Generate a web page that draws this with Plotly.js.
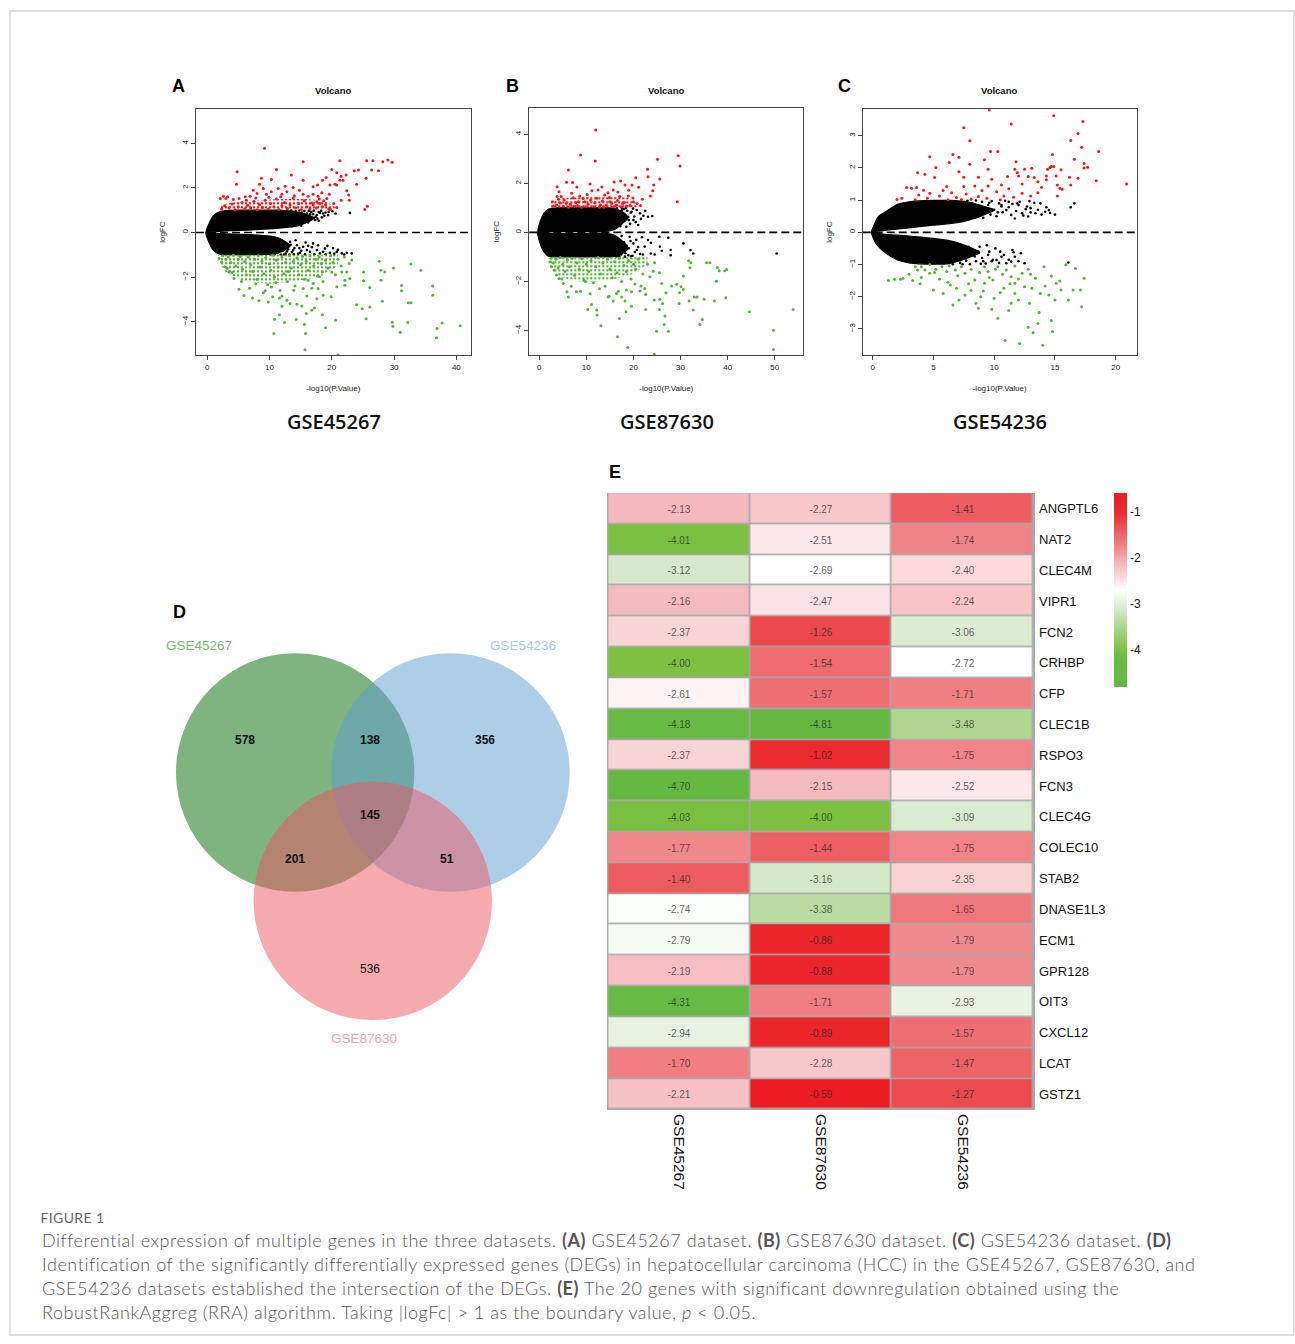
<!DOCTYPE html>
<html><head><meta charset="utf-8">
<script src="https://cdn.plot.ly/plotly-3.0.1.min.js"></script>
<style>html,body{margin:0;padding:0;background:#fff}#chart{width:1295px;height:1344px}</style>
</head><body><div id="chart"></div>
<script>
// ================= DATA =================
const datasetNames = ['GSE45267', 'GSE87630', 'GSE54236'];
const panelLetters = ['A', 'B', 'C'];
const volcanoTitle = 'Volcano';
const volcanoXLabel = '-log10(P.Value)';
const volcanoYLabel = 'logFC';
const A_xTicks = [0, 10, 20, 30, 40];
const A_yTicks = [-4, -2, 0, 2, 4];
const B_xTicks = [0, 10, 20, 30, 40, 50];
const B_yTicks = [-4, -2, 0, 2, 4];
const C_xTicks = [0, 5, 10, 15, 20];
const C_yTicks = [-3, -2, -1, 0, 1, 2, 3];

// dense black (non-significant) cloud cores: x, upper edge, lower edge (tapered ends)
const A_cloudUpX = [-0.2, 0.3, 1, 2, 3, 5, 8, 11, 13, 14.5, 15.5, 16.5, 17.2];
const A_cloudUpTop = [0, 0.4, 0.75, 0.93, 0.98, 1.0, 1.0, 1.0, 0.97, 0.92, 0.85, 0.75, 0.66];
const A_cloudUpBot = [0, 0.02, 0.03, 0.05, 0.07, 0.09, 0.13, 0.18, 0.24, 0.3, 0.4, 0.52, 0.64];
const A_cloudLowX = [-0.2, 0.3, 1, 2, 4, 7, 9, 10.5, 11.5, 12.5, 13.3];
const A_cloudLowTop = [0, -0.02, -0.03, -0.05, -0.07, -0.1, -0.14, -0.18, -0.25, -0.4, -0.58];
const A_cloudLowBot = [0, -0.45, -0.8, -0.97, -1.0, -1.0, -0.99, -0.97, -0.9, -0.78, -0.62];
const B_cloudUpX = [-0.3, 0.3, 1, 2, 4, 8, 12, 14.5, 16, 17, 18, 18.8];
const B_cloudUpTop = [0, 0.5, 0.78, 0.95, 1.0, 1.0, 1.0, 1.0, 0.97, 0.9, 0.8, 0.62];
const B_cloudUpBot = [0, 0.01, 0.02, 0.03, 0.04, 0.04, 0.03, 0.05, 0.12, 0.25, 0.42, 0.58];
const B_cloudLowX = [-0.3, 0.3, 1, 2, 4, 8, 12, 14.5, 16, 17, 18, 18.8];
const B_cloudLowTop = [0, -0.01, -0.02, -0.03, -0.04, -0.04, -0.03, -0.05, -0.12, -0.25, -0.42, -0.6];
const B_cloudLowBot = [0, -0.5, -0.8, -0.97, -1.0, -1.0, -1.0, -1.0, -0.98, -0.92, -0.82, -0.66];
const C_cloudUpX = [-0.1, 0.2, 0.5, 1, 2, 3, 5, 6.5, 7.5, 8.3, 9.2, 10];
const C_cloudUpTop = [0, 0.3, 0.5, 0.62, 0.86, 0.95, 0.99, 0.99, 0.96, 0.9, 0.8, 0.7];
const C_cloudUpBot = [0, 0.02, 0.04, 0.06, 0.1, 0.14, 0.22, 0.28, 0.34, 0.42, 0.55, 0.68];
const C_cloudLowX = [-0.1, 0.2, 0.5, 1, 2, 3, 5, 6.3, 7.2, 8.1, 8.8];
const C_cloudLowTop = [0, -0.02, -0.04, -0.06, -0.09, -0.12, -0.19, -0.26, -0.35, -0.48, -0.62];
const C_cloudLowBot = [0, -0.3, -0.45, -0.62, -0.85, -0.95, -0.99, -0.97, -0.88, -0.76, -0.64];

// scattered black points around / beyond the dense core
const A_blackPts = [[22.9,0.88],[16.5,0.82],[17.6,0.78],[18.1,0.88],[18.6,0.85],[17.3,0.55],[16.0,0.63],[19.5,0.92],[13.3,-0.42],[14.4,-0.57],[15.4,-0.64],[16.5,-0.87],[17.0,-0.49],[17.6,-0.79],[18.1,-0.94],[18.6,-0.87],[19.7,-0.91],[20.8,-0.87],[21.6,-0.94],[22.4,-0.91],[23.2,-0.94],[14.9,-0.91],[16.0,-0.79],[13.8,-0.79],[17.8,-0.57],[18.9,-0.72],[15.8,-0.45],[19.3,-0.6],[20.2,-0.7],[21.0,-0.78],[14.2,-0.35],[16.8,-0.66],
  [13.5,0.99],[14.2,0.95],[14.8,0.99],[15.2,0.9],[15.6,0.96],[16.0,0.85],[16.3,0.97],[16.7,0.92],[17.1,0.98],[17.4,0.7],[17.9,0.92],[18.3,0.97],[18.8,0.75],[19.0,0.9],[15.0,0.5],[15.9,0.72],[16.4,0.6],[17.0,0.82],[14.0,0.45],[13.0,0.35],[14.5,0.38],[15.5,0.65],[12.8,0.98],[16.2,0.45],[17.7,0.62],[18.4,0.68],[19.4,0.78],[20.1,0.95],[20.6,0.85],[15.1,0.3],[13.6,0.28],[12.2,0.25],[17.9,0.52],
  [10.8,-0.98],[11.3,-0.92],[11.8,-0.99],[12.2,-0.8],[12.6,-0.95],[12.9,-0.6],[13.2,-0.99],[13.6,-0.88],[14.0,-0.7],[14.6,-0.96],[15.1,-0.82],[11.5,-0.45],[12.0,-0.35],[12.5,-0.5],[13.0,-0.75],[10.9,-0.3],[11.9,-0.62],[12.3,-0.99],[13.4,-0.55],[14.8,-0.7],[15.7,-0.98],[16.2,-0.6],[17.2,-0.98],[19.0,-0.98],[20.4,-0.95],[22.0,-0.99],[11.2,-0.7],[10.6,-0.55],[10.1,-0.25],[9.4,-0.2],[13.9,-0.98],[12.8,-0.85]];
const B_blackPts = [[30.6,-0.45],[32.1,-0.72],[32.7,-0.86],[50.4,-0.86],[27.9,-0.93],[27.9,-0.72],[25.5,-0.18],[27.4,-0.22],[25.6,-0.58],[23.7,-0.42],[23.7,-0.86],[22.1,0.68],[24.0,0.67],[23.1,0.64],[21.4,0.78],[20.7,0.91],[19.6,0.84],[18.9,0.64],[20.0,0.5],[18.5,0.23],[19.2,-0.18],[20.0,-0.45],[20.7,-0.72],[21.4,-0.88],[22.4,-0.58],[23.1,-0.31],[17.8,-0.72],[18.9,-0.93],[17.1,-0.45],[21.0,0.3],[22.5,0.88],[19.8,-0.95],[24.5,-0.9],[26.0,-0.75],[21.8,-0.2],[18.0,0.95],
  [15.5,0.95],[16.0,0.8],[16.5,0.98],[17.0,0.6],[17.5,0.9],[18.0,0.7],[18.4,0.99],[19.0,0.5],[19.4,0.8],[20.2,0.65],[21.6,0.55],[16.2,0.35],[17.2,0.25],[17.8,0.45],[16.8,0.75],[17.6,0.98],[18.7,0.88],[19.9,0.97],[19.3,0.35],[20.5,0.42],
  [15.5,-0.9],[16.0,-0.6],[16.4,-0.98],[16.9,-0.75],[17.4,-0.9],[18.0,-0.4],[18.3,-0.85],[19.0,-0.65],[19.5,-0.98],[20.3,-0.8],[21.0,-0.6],[22.0,-0.9],[16.5,-0.25],[17.5,-0.15],[16.2,-0.4],[17.0,-0.98],[18.6,-0.55],[19.4,-0.35],[18.2,-0.99],[20.6,-0.3]];
const C_blackPts = [[16.1,-0.94],[16.3,0.78],[16.6,0.9],[14.2,0.64],[14.5,0.69],[12.8,0.49],[13.4,0.59],[12.3,0.59],[11.4,0.54],[11.7,0.43],[11.0,0.69],[10.6,0.8],[11.7,-0.76],[11.5,-0.55],[11.4,-0.91],[12.5,-0.96],[11.0,-0.96],[10.6,-0.76],[10.2,-0.86],[12.0,0.85],[13.0,0.75],[13.8,0.9],[11.2,0.95],[9.5,-0.7],[9.8,-0.9],[10.5,-0.6],[12.2,-0.65],[15.0,0.55],[12.6,0.72],
  [7.8,0.98],[8.2,0.9],[8.5,0.99],[8.8,0.75],[9.0,0.95],[9.3,0.6],[9.5,0.85],[9.8,0.97],[10.0,0.7],[10.2,0.5],[10.4,0.9],[10.7,0.62],[10.9,0.98],[11.2,0.78],[11.5,0.88],[11.8,0.66],[12.1,0.95],[12.4,0.52],[12.7,0.8],[13.0,0.62],[13.3,0.92],[13.6,0.7],[13.9,0.55],[14.3,0.78],[14.6,0.6],[8.6,0.55],[9.1,0.45],[9.7,0.55],[7.9,0.5],[8.9,0.65],[10.6,0.85],[11.9,0.9],[12.9,0.97],[8.4,0.72],[7.6,0.82],[10.3,0.62],[9.6,0.92],
  [6.6,-0.99],[6.9,-0.7],[7.2,-0.95],[7.5,-0.55],[7.7,-0.88],[8.0,-0.99],[8.2,-0.65],[8.5,-0.9],[8.8,-0.45],[9.0,-0.8],[9.3,-0.97],[9.6,-0.6],[9.9,-0.85],[10.1,-0.5],[10.4,-0.95],[10.8,-0.7],[11.2,-0.85],[11.6,-0.62],[12.0,-0.9],[7.0,-0.4],[8.4,-0.75],[9.4,-0.4],[6.8,-0.85],[7.4,-0.99],[7.9,-0.45],[8.7,-0.6],[9.1,-0.9],[8.9,-0.98]];

// up-regulated (red) points
const A_upPts = [[9.2,3.78],[15.4,3.18],[21.3,3.22],[25.6,3.22],[26.6,3.22],[28.2,3.18],[29.0,3.25],[29.7,3.15],[4.8,2.73],[11.1,2.83],[20.0,2.83],[20.8,2.68],[23.6,2.77],[24.3,2.8],[26.4,2.8],[27.5,2.77],[13.5,2.58],[21.5,2.53],[22.3,2.58],[25.5,2.43],[8.7,2.43],[10.3,2.38],[15.4,2.35],[18.5,2.35],[19.1,2.47],[21.3,2.35],[21.8,2.35],[4.7,2.17],[8.4,2.17],[12.5,2.08],[19.7,2.13],[20.5,2.16],[20.8,2.13],[24.0,2.17],[17.7,2.13],[17.0,2.05],[22.4,1.87],[22.7,1.68],[22.8,1.45],[25.7,1.18],[25.3,1.03],[19.8,1.03],[7.4,1.9],[9.0,1.98],[11.4,1.98],[13.8,2.02],[14.8,1.9],[2.6,1.63],[2.1,1.53],[3.0,1.53],[3.3,1.6],[4.2,1.48],[5.1,1.53],[6.1,1.6],[6.9,1.63],[8.0,1.75],[9.5,1.72],[10.3,1.83],[12.0,1.72],[12.8,1.83],[15.4,1.72],[16.2,1.63],[17.0,1.72],[17.8,1.63],[18.4,1.78],[19.2,1.53],[19.6,1.72],[18.7,1.42],[18.1,1.3],[17.6,1.38],[16.8,1.33],[2.3,1.05],[2.8,1.2],[3.5,1.1],[4.0,1.28],[4.5,1.02],[5.0,1.15],[5.6,1.35],[6.0,1.05],[6.5,1.22],[7.0,1.1],[7.5,1.4],[8.0,1.02],[8.4,1.25],[8.9,1.12],[9.3,1.45],[9.8,1.05],[10.2,1.3],[10.7,1.15],[11.1,1.5],[11.5,1.03],[12.0,1.2],[12.4,1.35],[12.9,1.08],[13.3,1.25],[13.8,1.55],[14.2,1.1],[14.7,1.3],[15.1,1.02],[15.6,1.42],[16.0,1.15],[16.5,1.05],[17.0,1.25],[17.5,1.1],[18.0,1.5],[18.5,1.15],[19.0,1.25],[19.5,1.05],[20.3,1.3],[20.8,1.12],[21.5,1.45],[14.0,1.65],[11.8,1.6],[9.9,1.58],[7.8,1.55],[6.3,1.45]];
const B_upPts = [[12.0,4.18],[8.8,3.16],[11.9,2.91],[25.1,2.98],[29.5,3.12],[29.9,2.71],[6.2,2.54],[23.0,2.57],[23.1,2.27],[25.6,2.18],[20.5,2.23],[5.8,2.04],[7.1,2.03],[10.8,1.97],[15.9,2.05],[17.3,2.1],[18.2,1.93],[19.7,1.93],[21.1,1.84],[24.3,1.93],[24.1,1.7],[23.6,1.48],[21.9,1.35],[29.3,1.25],[3.8,1.86],[4.2,1.66],[3.8,1.46],[4.7,1.46],[4.1,1.35],[2.8,1.25],[3.7,1.12],[5.7,1.18],[7.2,1.41],[8.6,1.48],[8.3,1.25],[9.7,1.25],[9.9,1.05],[11.5,1.05],[12.2,1.39],[13.0,1.12],[13.9,1.52],[15.0,1.25],[15.7,1.73],[16.4,1.12],[17.1,1.46],[17.7,1.18],[18.5,1.07],[20.0,1.25],[20.8,1.18],[18.9,1.48],[6.2,1.02],[7.4,1.07],[9.0,1.02],[5.1,1.07],[13.7,1.02],[12.5,1.73],[14.6,1.62],[15.4,1.18],[3.0,1.08],[4.5,1.2],[5.3,1.32],[6.6,1.15],[7.8,1.22],[8.1,1.1],[9.3,1.38],[10.4,1.15],[10.9,1.32],[11.8,1.2],[12.8,1.02],[13.4,1.28],[14.2,1.12],[14.9,1.42],[15.8,1.05],[16.6,1.3],[17.4,1.05],[18.1,1.22],[19.3,1.1],[19.9,1.4],[21.5,1.1],[6.9,1.6],[10.2,1.55],[11.2,1.7],[8.0,1.85],[13.3,1.85],[16.7,1.65],[19.0,1.72]];
const C_upPts = [[9.6,3.8],[14.9,3.62],[11.4,3.36],[17.3,3.44],[7.5,3.25],[16.9,3.07],[8.0,2.84],[16.3,2.85],[17.2,2.64],[9.7,2.51],[10.3,2.51],[18.6,2.51],[6.6,2.42],[14.8,2.42],[4.7,2.35],[7.1,2.33],[9.2,2.25],[16.6,2.27],[6.3,2.17],[8.0,2.11],[11.8,2.19],[17.4,2.14],[17.7,2.02],[17.4,2.0],[5.2,2.01],[9.5,1.96],[11.7,1.96],[12.5,1.96],[13.1,1.99],[14.6,2.01],[14.7,2.04],[14.9,2.04],[14.4,1.96],[11.9,1.85],[15.5,1.94],[3.7,1.85],[7.1,1.88],[4.3,1.8],[5.1,1.7],[7.5,1.71],[8.7,1.71],[9.8,1.65],[11.1,1.73],[12.0,1.75],[12.8,1.73],[13.3,1.7],[14.3,1.75],[15.1,1.75],[16.2,1.71],[16.9,1.68],[18.4,1.6],[20.9,1.5],[15.2,1.47],[15.4,1.37],[15.6,1.34],[15.2,1.13],[16.3,1.47],[14.3,1.63],[13.6,1.57],[12.3,1.5],[10.6,1.47],[9.5,1.44],[8.4,1.44],[7.5,1.42],[6.1,1.42],[2.8,1.39],[3.2,1.37],[3.6,1.39],[4.2,1.31],[4.7,1.21],[5.5,1.13],[6.5,1.23],[6.9,1.08],[7.7,1.19],[8.7,1.11],[9.4,1.06],[10.2,1.26],[10.8,1.13],[11.6,1.09],[12.3,1.21],[13.0,1.13],[13.6,1.23],[2.0,1.02],[2.4,1.06],[3.5,1.01],[3.8,1.16],[4.5,1.06],[6.2,1.01],[7.3,1.02],[8.1,1.03],[10.5,1.01],[5.8,1.3],[9.0,1.3],[11.2,1.35],[13.9,1.4]];

// down-regulated (green) points
const A_downPts = [[27.6,-1.29],[29.9,-1.59],[32.7,-1.42],[34.3,-1.69],[27.9,-1.69],[28.5,-1.77],[27.9,-2.14],[25.1,-1.77],[25.1,-2.17],[26.1,-2.47],[31.2,-2.38],[31.2,-2.62],[36.2,-2.4],[36.2,-2.82],[28.1,-3.09],[32.3,-3.15],[32.7,-3.15],[24.0,-3.24],[24.9,-3.42],[26.1,-3.34],[25.5,-3.87],[20.6,-3.94],[29.7,-4.03],[32.2,-4.04],[37.7,-4.06],[29.8,-4.21],[40.6,-4.19],[36.9,-4.31],[31.0,-4.48],[36.8,-4.72],[19.0,-4.28],[15.6,-4.13],[15.8,-4.54],[14.3,-3.91],[10.7,-4.54],[15.7,-5.26],[21.0,-5.5],[10.8,-3.9],[12.4,-4.04],[11.6,-3.69],[15.9,-3.64],[16.8,-3.49],[17.2,-3.39],[18.5,-3.69],[15.2,-3.3],[13.3,-3.19],[14.4,-3.22],[12.0,-3.31],[10.5,-2.89],[11.6,-2.94],[12.8,-3.04],[13.9,-2.59],[9.8,-3.12],[8.3,-3.07],[7.3,-2.94],[9.3,-2.62],[5.9,-2.83],[5.1,-2.55],[4.3,-2.07],[3.5,-1.77],[2.8,-1.54],[1.9,-1.17],[2.3,-1.32],[22.1,-2.37],[20.8,-2.44],[22.1,-2.14],[22.9,-2.07],[22.4,-1.77],[23.2,-1.24],[22.8,-1.39],[21.6,-1.77],[20.0,-1.77],[18.5,-1.77],[18.0,-1.99],[19.9,-2.89],[18.6,-2.82],[17.6,-2.97],[16.0,-2.85],[15.4,-2.52],[17.0,-2.29],[16.2,-2.14],[17.8,-2.52],[2.5,-1.05],[3.0,-1.2],[3.4,-1.1],[3.8,-1.35],[4.2,-1.02],[4.6,-1.5],[5.0,-1.2],[5.3,-1.08],[5.7,-1.65],[6.0,-1.3],[6.3,-1.9],[6.6,-1.1],[7.0,-1.45],[7.3,-1.75],[7.6,-1.2],[8.0,-2.1],[8.2,-1.05],[8.5,-1.55],[8.8,-1.3],[9.1,-1.85],[9.4,-1.12],[9.7,-2.35],[10.0,-1.4],[10.2,-1.7],[10.5,-1.02],[10.8,-2.0],[11.1,-1.25],[11.4,-1.55],[11.7,-2.6],[12.0,-1.1],[12.3,-1.85],[12.6,-1.35],[12.9,-2.2],[13.2,-1.05],[13.5,-1.6],[13.8,-1.3],[14.1,-2.4],[14.4,-1.15],[14.7,-1.9],[15.0,-1.45],[15.3,-1.08],[15.6,-2.1],[15.9,-1.3],[16.2,-1.7],[16.5,-1.05],[16.8,-2.5],[17.1,-1.5],[17.4,-1.2],[17.7,-1.95],[18.0,-1.1],[18.3,-1.4],[18.6,-2.2],[19.0,-1.25],[19.4,-1.6],[19.8,-1.05],[20.2,-1.35],[20.6,-1.9],[21.0,-1.2],[21.5,-1.5],[22.0,-1.1],[3.2,-1.6],[4.0,-1.8],[5.5,-2.2],[6.8,-2.5],[7.8,-2.3],[9.0,-2.7],[10.3,-2.45],[11.0,-2.25],[12.0,-2.85],[13.0,-1.75]];
const B_downPts = [[35.5,-1.24],[36.2,-1.24],[37.8,-1.43],[38.2,-1.56],[39.4,-1.56],[39.8,-1.51],[37.6,-1.99],[39.6,-2.67],[37.2,-2.8],[35.0,-2.73],[33.5,-2.63],[32.9,-2.63],[31.8,-2.8],[32.7,-3.17],[34.6,-3.55],[34.1,-3.76],[44.6,-3.24],[53.9,-3.14],[49.7,-3.99],[49.7,-4.78],[27.4,-4.03],[24.9,-4.03],[24.4,-4.97],[18.8,-4.69],[16.6,-4.26],[13.1,-3.81],[17.0,-3.51],[18.4,-3.24],[19.6,-3.01],[22.6,-3.14],[25.5,-3.14],[26.7,-3.41],[26.5,-3.76],[25.6,-2.73],[24.4,-2.76],[26.2,-2.9],[26.9,-2.46],[26.0,-2.08],[28.1,-2.19],[29.2,-2.12],[30.1,-2.22],[30.6,-2.33],[29.8,-2.46],[29.7,-2.9],[30.6,-1.78],[31.7,-1.16],[32.2,-1.24],[32.0,-1.44],[24.5,-1.24],[24.2,-1.58],[23.5,-1.81],[25.5,-1.65],[22.4,-2.29],[21.6,-2.19],[21.4,-2.39],[22.6,-2.53],[12.2,-3.17],[10.3,-3.14],[11.1,-2.94],[12.3,-3.37],[15.7,-2.8],[14.6,-2.63],[6.2,-2.63],[5.9,-2.42],[7.9,-2.42],[5.1,-2.08],[4.2,-1.88],[3.7,-1.74],[3.2,-1.54],[2.3,-1.2],[2.6,-1.4],[19.6,-2.42],[18.5,-2.35],[17.5,-2.63],[16.4,-2.49],[2.5,-1.05],[3.0,-1.25],[3.6,-1.1],[4.0,-1.45],[4.5,-1.02],[5.0,-1.3],[5.5,-1.6],[6.0,-1.12],[6.4,-1.4],[7.0,-1.05],[7.5,-1.75],[8.0,-1.25],[8.5,-1.5],[9.0,-1.08],[9.5,-1.95],[10.0,-1.3],[10.5,-1.6],[11.0,-1.15],[11.5,-2.05],[12.0,-1.4],[12.5,-1.02],[13.0,-1.7],[13.5,-1.25],[14.0,-2.2],[14.5,-1.1],[15.0,-1.5],[15.5,-1.85],[16.0,-1.2],[16.5,-1.65],[17.0,-1.05],[17.5,-2.0],[18.0,-1.35],[18.5,-1.6],[19.0,-1.15],[19.5,-1.9],[20.0,-1.3],[20.5,-1.5],[21.0,-1.1],[22.0,-1.7],[23.0,-1.3],[4.8,-1.9],[6.8,-2.2],[8.8,-2.4],[10.8,-2.5],[12.8,-2.3],[14.8,-2.6],[16.8,-2.4],[18.2,-2.8],[20.3,-2.1],[9.8,-2.0]];
const C_downPts = [[1.3,-1.5],[1.8,-1.46],[2.3,-1.46],[2.5,-1.43],[3.3,-1.5],[3.7,-1.17],[3.5,-1.07],[4.3,-1.17],[5.0,-1.79],[4.7,-1.27],[5.2,-1.15],[5.7,-1.07],[6.1,-1.22],[6.4,-1.64],[6.6,-2.26],[6.9,-1.74],[7.1,-2.1],[7.6,-1.27],[8.1,-1.15],[8.4,-1.48],[8.1,-1.81],[8.5,-2.2],[8.7,-2.36],[9.1,-1.82],[9.2,-1.58],[9.5,-1.22],[9.8,-2.39],[9.9,-1.48],[10.3,-2.67],[10.5,-1.87],[10.8,-1.74],[10.9,-3.36],[11.2,-2.43],[11.4,-2.2],[11.0,-1.17],[11.4,-1.38],[11.7,-1.58],[12.0,-2.1],[12.1,-3.45],[12.3,-1.27],[12.5,-1.69],[12.8,-2.95],[12.9,-2.2],[13.1,-1.74],[13.2,-3.12],[13.4,-1.43],[13.6,-2.83],[13.7,-2.49],[14.0,-3.51],[14.1,-1.07],[14.2,-1.67],[14.5,-1.95],[14.7,-2.74],[14.8,-3.08],[14.7,-1.36],[15.0,-2.1],[15.1,-1.58],[15.4,-1.51],[15.5,-1.79],[16.1,-2.1],[15.9,-1.01],[16.5,-1.79],[17.1,-1.79],[17.2,-2.31],[17.4,-1.43],[16.7,-1.12],[11.7,-1.05],[12.8,-1.15],[10.3,-1.07],[9.2,-1.07],[7.3,-1.07],[6.8,-1.17],[5.1,-1.25],[4.0,-1.07],[4.7,-1.0],[3.0,-1.3],[4.0,-1.4],[5.5,-1.45],[6.3,-1.05],[7.0,-1.35],[7.9,-1.6],[8.8,-1.25],[9.6,-1.4],[10.1,-1.15],[10.7,-1.3],[11.3,-1.6],[12.0,-1.45],[13.0,-1.3],[13.8,-1.9],[5.8,-1.9],[7.6,-1.95],[8.9,-2.0],[10.0,-2.05],[11.7,-1.9],[6.2,-1.55],[3.9,-1.6]];

// dense-core extents of the coloured point bands: x, inner edge, outer edge
const A_upBandX = [2.2, 4, 8, 12, 16, 19, 20.5];
const A_upBandIn = [1, 1, 1, 1, 1, 1, 1];
const A_upBandOut = [1.25, 1.35, 1.45, 1.5, 1.5, 1.4, 1.15];
const A_downBandX = [1.8, 3, 6, 10, 14, 18, 21];
const A_downBandIn = [-1, -1, -1, -1, -1, -1, -1];
const A_downBandOut = [-1.3, -1.8, -2.2, -2.3, -2.2, -2.0, -1.5];
const B_upBandX = [2.5, 5, 10, 15, 19, 21];
const B_upBandIn = [1, 1, 1, 1, 1, 1];
const B_upBandOut = [1.25, 1.4, 1.45, 1.5, 1.4, 1.15];
const B_downBandX = [2, 4, 8, 12, 16, 20, 23];
const B_downBandIn = [-1, -1, -1, -1, -1, -1, -1];
const B_downBandOut = [-1.3, -1.8, -2.0, -2.0, -1.9, -1.7, -1.3];

// Venn (D)
const vennSets = ['GSE45267', 'GSE54236', 'GSE87630'];
const vennRegions = ['GSE45267 only', 'GSE45267∩GSE54236', 'GSE54236 only', 'all three', 'GSE45267∩GSE87630', 'GSE54236∩GSE87630', 'GSE87630 only'];
const vennCounts = [578, 138, 356, 145, 201, 51, 536];

// Heatmap (E)
const genes = ['ANGPTL6','NAT2','CLEC4M','VIPR1','FCN2','CRHBP','CFP','CLEC1B','RSPO3','FCN3','CLEC4G','COLEC10','STAB2','DNASE1L3','ECM1','GPR128','OIT3','CXCL12','LCAT','GSTZ1'];
const logFC_GSE45267 = [-2.13,-4.01,-3.12,-2.16,-2.37,-4.00,-2.61,-4.18,-2.37,-4.70,-4.03,-1.77,-1.40,-2.74,-2.79,-2.19,-4.31,-2.94,-1.70,-2.21];
const logFC_GSE87630 = [-2.27,-2.51,-2.69,-2.47,-1.26,-1.54,-1.57,-4.81,-1.02,-2.15,-4.00,-1.44,-3.16,-3.38,-0.86,-0.88,-1.71,-0.89,-2.28,-0.59];
const logFC_GSE54236 = [-1.41,-1.74,-2.40,-2.24,-3.06,-2.72,-1.71,-3.48,-1.75,-2.52,-3.09,-1.75,-2.35,-1.65,-1.79,-1.79,-2.93,-1.57,-1.47,-1.27];
const colorbarTicks = [-1, -2, -3, -4];

// Caption
const captionHead = 'FIGURE 1';
const captionLines = [
  'Differential expression of multiple genes in the three datasets. <b>(A)</b> GSE45267 dataset. <b>(B)</b> GSE87630 dataset. <b>(C)</b> GSE54236 dataset. <b>(D)</b>',
  'Identification of the significantly differentially expressed genes (DEGs) in hepatocellular carcinoma (HCC) in the GSE45267, GSE87630, and',
  'GSE54236 datasets established the intersection of the DEGs. <b>(E)</b> The 20 genes with significant downregulation obtained using the',
  'RobustRankAggreg (RRA) algorithm. Taking |logFc| &gt; 1 as the boundary value, <i>p</i> &lt; 0.05.'
];

// ================= LAYOUT / DRAWING =================
const W = 1295, H = 1344;
const fx = v => v / W, fy = v => 1 - v / H;
const ARIAL = 'Liberation Sans, Arial, sans-serif';
const RED = '#F01818', GREEN = '#56B13A';

const panels = [
  {ax:'x', ay:'y', xd:[196,470.7], yd:[109.3,355], xr:[-1.8,42.3], yr:[-5.5,5.53], xt:A_xTicks, yt:A_yTicks,
   cu:[A_cloudUpX,A_cloudUpTop,A_cloudUpBot], cl:[A_cloudLowX,A_cloudLowTop,A_cloudLowBot], bk:A_blackPts, up:A_upPts, dn:A_downPts,
   ub:[A_upBandX,A_upBandOut,A_upBandIn], db:[A_downBandX,A_downBandIn,A_downBandOut], letterX:178, titleX:333},
  {ax:'x2', ay:'y2', xd:[529.3,803.3], yd:[108.3,355], xr:[-2.1,56.05], yr:[-5.0,5.06], xt:B_xTicks, yt:B_yTicks,
   cu:[B_cloudUpX,B_cloudUpTop,B_cloudUpBot], cl:[B_cloudLowX,B_cloudLowTop,B_cloudLowBot], bk:B_blackPts, up:B_upPts, dn:B_downPts,
   ub:[B_upBandX,B_upBandOut,B_upBandIn], db:[B_downBandX,B_downBandIn,B_downBandOut], letterX:512, titleX:666},
  {ax:'x3', ay:'y3', xd:[862.7,1136.7], yd:[109.3,355], xr:[-0.82,21.73], yr:[-3.81,3.82], xt:C_xTicks, yt:C_yTicks,
   cu:[C_cloudUpX,C_cloudUpTop,C_cloudUpBot], cl:[C_cloudLowX,C_cloudLowTop,C_cloudLowBot], bk:C_blackPts, up:C_upPts, dn:C_downPts,
   ub:null, db:null, letterX:844, titleX:999}
];

function poly(env){ const [xs,a,b]=env; return {x: xs.concat(xs.slice().reverse()), y: a.concat(b.slice().reverse())}; }
function ann(o){ return Object.assign({xref:'paper', yref:'paper', showarrow:false, xanchor:'center', yanchor:'middle'}, o); }

const traces = [];
const layout = {
  width: W, height: H, margin:{l:0,r:0,t:0,b:0}, showlegend:false,
  paper_bgcolor:'#ffffff', plot_bgcolor:'rgba(0,0,0,0)',
  font:{family: ARIAL, color:'#222'},
  shapes: [], annotations: []
};

panels.forEach((p, i) => {
  const common = {xaxis:p.ax, yaxis:p.ay, hoverinfo:'skip', showlegend:false};
  [p.cu, p.cl].forEach(env => {
    const q = poly(env);
    traces.push(Object.assign({type:'scatter', mode:'lines', x:q.x, y:q.y, fill:'toself', fillcolor:'#000', line:{color:'#000', width:1.2, shape:'spline', smoothing:0.6}}, common));
  });
  traces.push(Object.assign({type:'scatter', mode:'markers', x:p.bk.map(d=>d[0]), y:p.bk.map(d=>d[1]), marker:{color:'#000', size:2.6}}, common));
  if (p.ub) {
    const q = poly(p.ub);
    traces.push(Object.assign({type:'scatter', mode:'lines', x:q.x, y:q.y, fill:'toself', fillcolor:'rgba(0,0,0,0)', line:{width:0},
      fillpattern:{shape:'.', fgcolor:RED, bgcolor:'rgba(255,255,255,0)', size:4, solidity:0.3}}, common));
  }
  if (p.db) {
    const q = poly(p.db);
    traces.push(Object.assign({type:'scatter', mode:'lines', x:q.x, y:q.y, fill:'toself', fillcolor:'rgba(0,0,0,0)', line:{width:0},
      fillpattern:{shape:'.', fgcolor:GREEN, bgcolor:'rgba(255,255,255,0)', size:4, solidity:0.3}}, common));
  }
  traces.push(Object.assign({type:'scatter', mode:'markers', x:p.up.map(d=>d[0]), y:p.up.map(d=>d[1]), marker:{color:RED, size:3}}, common));
  traces.push(Object.assign({type:'scatter', mode:'markers', x:p.dn.map(d=>d[0]), y:p.dn.map(d=>d[1]), marker:{color:GREEN, size:3}}, common));

  const xn = p.ax === 'x' ? 'xaxis' : 'xaxis' + p.ax.slice(1);
  const yn = p.ay === 'y' ? 'yaxis' : 'yaxis' + p.ay.slice(1);
  layout[xn] = {domain:[fx(p.xd[0]), fx(p.xd[1])], range:p.xr, anchor:p.ay, tickvals:p.xt, ticks:'outside', ticklen:4, tickcolor:'#444',
    showline:true, mirror:true, linecolor:'#444', linewidth:1, showgrid:false, zeroline:false,
    tickfont:{size:8, color:'#222'}, title:{text:volcanoXLabel, font:{size:8, color:'#222'}, standoff:14}};
  layout[yn] = {domain:[fy(p.yd[1]), fy(p.yd[0])], range:p.yr, anchor:p.ax, tickvals:p.yt, ticks:'outside', ticklen:4, tickcolor:'#444',
    tickangle:-90, showline:true, mirror:true, linecolor:'#444', linewidth:1, showgrid:false, zeroline:false,
    tickfont:{size:8, color:'#222'}, title:{text:volcanoYLabel, font:{size:8, color:'#222'}, standoff:13}};
  layout.shapes.push({type:'line', xref:p.ax + ' domain', yref:p.ay, x0:0, x1:1, y0:0, y1:0, line:{color:'#000', width:1.7, dash:'8px,4px'}, layer:'above'});
  layout.annotations.push(ann({x:fx(p.letterX), y:fy(86), text:'<b>'+panelLetters[i]+'</b>', font:{size:18, color:'#000'}}));
  layout.annotations.push(ann({x:fx(p.titleX), y:fy(90.5), text:'<b>'+volcanoTitle+'</b>', font:{size:9.5, color:'#111'}}));
  layout.annotations.push(ann({x:fx(p.titleX + 1), y:fy(421), text:datasetNames[i], font:{family:'Open Sans, sans-serif', size:20, weight:600, color:'#111'}}));
});

// ---- Heatmap E ----
const zRows = genes.map((g, r) => [logFC_GSE45267[r], logFC_GSE87630[r], logFC_GSE54236[r]]);
const zMin = Math.min(...logFC_GSE45267, ...logFC_GSE87630, ...logFC_GSE54236);
const zMax = Math.max(...logFC_GSE45267, ...logFC_GSE87630, ...logFC_GSE54236);
const stop = v => (v - zMin) / (zMax - zMin);
const colorscale = [
  [0, 'rgb(100,184,66)'], [stop(-4.18), 'rgb(104,186,68)'], [stop(-4.0), 'rgb(125,192,66)'],
  [stop(-3.48), 'rgb(175,215,145)'], [stop(-3.12), 'rgb(214,233,205)'], [stop(-2.70), 'rgb(255,255,255)'],
  [stop(-2.51), 'rgb(252,231,233)'], [stop(-2.27), 'rgb(247,199,202)'], [stop(-2.13), 'rgb(245,184,188)'],
  [stop(-1.74), 'rgb(240,131,135)'], [stop(-1.41), 'rgb(236,92,96)'], [stop(-1.02), 'rgb(234,42,46)'], [1, 'rgb(237,28,36)']
];
traces.push({type:'heatmap', xaxis:'x4', yaxis:'y4', x:[0,1,2], y:genes.map((g,i)=>i), z:zRows, zmin:zMin, zmax:zMax,
  colorscale:colorscale, xgap:1.6, ygap:1.6, hoverinfo:'skip',
  texttemplate:'%{z:.2f}', textfont:{size:10, color:'rgba(35,35,35,0.72)', family:ARIAL},
  colorbar:{x:fx(1114), xanchor:'left', y:fy(492.7), yanchor:'top', len:194/H, lenmode:'fraction', thickness:13, thicknessmode:'pixels',
    outlinewidth:0, xpad:0, ypad:0, tickvals:colorbarTicks, ticktext:colorbarTicks.map(String), ticks:'', tickfont:{size:12, color:'#111'}}});
layout.xaxis4 = {domain:[fx(607), fx(1035)], range:[-0.51, 2.51], anchor:'y4', tickvals:[0,1,2], ticktext:datasetNames, tickangle:90,
  ticks:'', showline:false, showgrid:false, zeroline:false, tickfont:{size:15.5, color:'#111'}, ticklabelstandoff:3};
layout.yaxis4 = {domain:[fy(1110), fy(493)], range:[19.51, -0.51], anchor:'x4', side:'right', tickvals:genes.map((g,i)=>i), ticktext:genes,
  ticks:'', showline:false, showgrid:false, zeroline:false, tickfont:{size:13, color:'#111'}, ticklabelstandoff:3};
layout.shapes.push({type:'rect', xref:'x4', yref:'y4', x0:-0.51, x1:2.51, y0:-0.51, y1:19.51, fillcolor:'#a9a9a9', line:{width:0}, layer:'below'});
layout.annotations.push(ann({x:fx(615), y:fy(472), text:'<b>E</b>', font:{size:18, color:'#000'}}));

// ---- Venn D ----
const vennCircles = [ {cx:295.2, cy:772.5, r:119.2, fill:'rgba(0,103,0,0.5)'},
                      {cx:450.5, cy:772.5, r:119.2, fill:'rgba(93,157,209,0.5)'},
                      {cx:372.8, cy:900.8, r:119.2, fill:'rgba(235,85,97,0.5)'} ];
vennCircles.forEach(c => layout.shapes.push({type:'circle', xref:'paper', yref:'paper', x0:fx(c.cx-c.r), x1:fx(c.cx+c.r), y0:fy(c.cy+c.r), y1:fy(c.cy-c.r), fillcolor:c.fill, line:{width:0}}));
const vennLabelPos = [[199,645,'#7DB37A'],[523,645,'#A8CCE8'],[364,1038,'#F2A2AA']];
vennSets.forEach((s,i) => layout.annotations.push(ann({x:fx(vennLabelPos[i][0]), y:fy(vennLabelPos[i][1]), text:s, font:{size:13.5, color:vennLabelPos[i][2]}})));
const vennCountPos = [[245,740],[370,740],[485,740],[370,815],[295,859],[447,859],[370,969]];
vennCounts.forEach((n,i) => layout.annotations.push(ann({x:fx(vennCountPos[i][0]), y:fy(vennCountPos[i][1]), text: i===6 ? String(n) : '<b>'+n+'</b>', font:{size:12, color:'#111'}})));
layout.annotations.push(ann({x:fx(179), y:fy(612), text:'<b>D</b>', font:{size:18, color:'#000'}}));

// ---- frame & caption ----
layout.shapes.push({type:'rect', xref:'paper', yref:'paper', x0:fx(10), x1:fx(1294), y0:fy(1335), y1:fy(11), line:{color:'#d2d2d2', width:1.3}, fillcolor:'rgba(0,0,0,0)'});
const captionIdx = [];
captionIdx.push(layout.annotations.length);
layout.annotations.push(ann({x:fx(40), y:fy(1217), xanchor:'left', text:captionHead, font:{family:'Lato, sans-serif', size:14, color:'#666'}}));
captionLines.forEach((t,i) => { captionIdx.push(layout.annotations.length); layout.annotations.push(ann({x:fx(40), y:fy(1240 + 24*i), xanchor:'left', text:t, align:'left', font:{family:'Lato, sans-serif', size:18, weight:300, color:'#555'}})); });

Plotly.newPlot('chart', traces, layout, {staticPlot:true, displayModeBar:false}).then(gd => {
  captionIdx.forEach((k, j) => {
    const g = gd.querySelector('.annotation[data-index="' + k + '"] text');
    if (g) g.style.letterSpacing = j === 0 ? '0.4px' : '0.55px';
  });
});
</script>
</body></html>
